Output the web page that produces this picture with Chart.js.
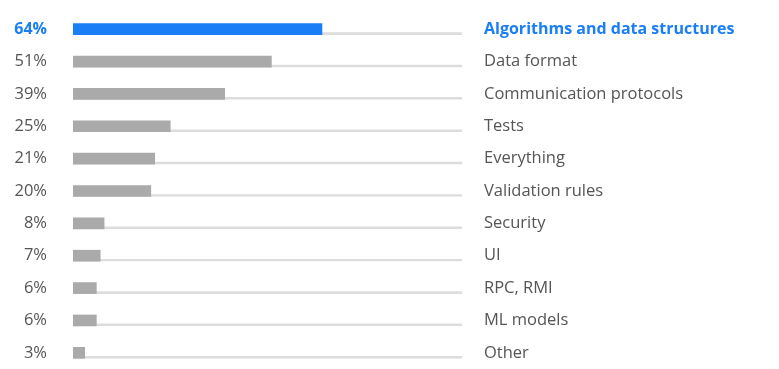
<!DOCTYPE html>
<html>
<head>
<meta charset="utf-8">
<script src="https://cdn.jsdelivr.net/npm/chart.js@4"></script>
<style>
  body { margin: 0; background: #fff; }
  #wrap { width: 779px; height: 369px; }
</style>
</head>
<body>
<div id="wrap"><canvas id="chart"></canvas></div>
<script>
const categories = ['Algorithms and data structures', 'Data format', 'Communication protocols', 'Tests',
  'Everything', 'Validation rules', 'Security', 'UI', 'RPC, RMI', 'ML models', 'Other'];
const shares = [64, 51, 39, 25, 21, 20, 8, 7, 6, 6, 3];
const percentLabels = shares.map(v => v + '%');
const highlight = 0;

const blue = '#1a7ef7';
const grey = '#aaaaaa';
const textGrey = '#555555';
const fontFamily = '"Open Sans", "Noto Sans", sans-serif';

const tickColor = ctx => ctx.index === highlight ? blue : textGrey;
const tickFont = ctx => ctx.index === highlight
  ? { family: fontFamily, size: 16, weight: 'bold' }
  : { family: fontFamily, size: 16.5, weight: 'normal' };

// keep the label padding from shrinking the plot vertically
const fixAxis = width => s => { s.width = width; s.paddingTop = 0; s.paddingBottom = 0; };

new Chart(document.getElementById('chart').getContext('2d'), {
  type: 'bar',
  data: {
    labels: percentLabels,
    datasets: [{
      // track behind each bar, only its bottom edge is visible
      data: shares.map(() => 100),
      backgroundColor: 'rgba(0,0,0,0)',
      borderColor: '#dddddd',
      borderWidth: { top: 0, left: 0, right: 0, bottom: 2 },
      borderSkipped: false,
      barThickness: 11,
      order: 2
    }, {
      data: shares,
      backgroundColor: shares.map((v, i) => i === highlight ? blue : grey),
      barThickness: 11,
      order: 1
    }]
  },
  options: {
    indexAxis: 'y',
    responsive: true,
    maintainAspectRatio: false,
    animation: false,
    layout: { padding: { top: 13, bottom: 0, left: 0, right: 0 } },
    datasets: { bar: { grouped: false } },
    scales: {
      x: { display: false, min: 0, max: 100 },
      y: {
        position: 'left',
        grid: { display: false, drawTicks: false },
        border: { display: false },
        ticks: { padding: 26, color: tickColor, font: tickFont },
        afterFit: fixAxis(73)
      },
      y2: {
        type: 'category',
        position: 'right',
        labels: categories,
        offset: true,
        grid: { display: false, drawTicks: false },
        border: { display: false },
        ticks: { padding: 22, color: tickColor, font: tickFont },
        afterFit: fixAxis(317)
      }
    },
    plugins: {
      legend: { display: false },
      tooltip: { enabled: false }
    }
  }
});
</script>
</body>
</html>
